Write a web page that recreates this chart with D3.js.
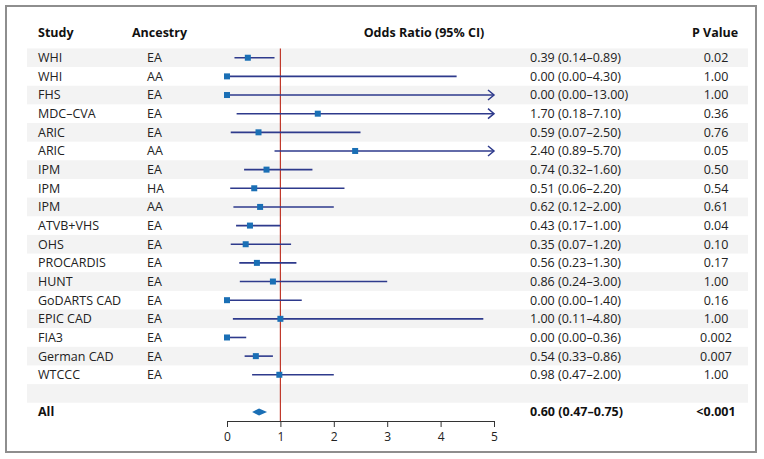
<!DOCTYPE html>
<html>
<head>
<meta charset="utf-8">
<script src="https://cdn.jsdelivr.net/npm/d3@7"></script>
<style>
html,body{margin:0;padding:0;background:#fff;}
svg{display:block;font-family:"Open Sans","Noto Sans",sans-serif;}
</style>
</head>
<body>
<svg id="chart" width="764" height="459"></svg>
<script>
const studies = ["WHI","WHI","FHS","MDC\u2013CVA","ARIC","ARIC","IPM","IPM","IPM","ATVB+VHS","OHS","PROCARDIS","HUNT","GoDARTS CAD","EPIC CAD","FIA3","German CAD","WTCCC"];
const ancestry = ["EA","AA","EA","EA","EA","AA","EA","HA","AA","EA","EA","EA","EA","EA","EA","EA","EA","EA"];
const oddsRatio = [0.39,0.00,0.00,1.70,0.59,2.40,0.74,0.51,0.62,0.43,0.35,0.56,0.86,0.00,1.00,0.00,0.54,0.98];
const ciLow = [0.14,0.00,0.00,0.18,0.07,0.89,0.32,0.06,0.12,0.17,0.07,0.23,0.24,0.00,0.11,0.00,0.33,0.47];
const ciHigh = [0.89,4.30,13.00,7.10,2.50,5.70,1.60,2.20,2.00,1.00,1.20,1.30,3.00,1.40,4.80,0.36,0.86,2.00];
const pValues = ["0.02","1.00","1.00","0.36","0.76","0.05","0.50","0.54","0.61","0.04","0.10","0.17","1.00","0.16","1.00","0.002","0.007","1.00"];
const overallLabel = "All";
const overall = [0.60, 0.47, 0.75];
const overallP = "<0.001";
const xTicks = [0,1,2,3,4,5];
const headers = ["Study","Ancestry","Odds Ratio (95% CI)","P Value"];

const svg = d3.select("#chart");
const fmt = d3.format(".2f");
const nRows = studies.length + 2; // studies + blank + All

const x = d3.scaleLinear().domain([0,5]).range([227,494]);
const y = d3.scaleBand().domain(d3.range(nRows)).range([48.4, 421.4]).padding(0);
const yc = i => y(i) + y.bandwidth()/2;

// frame
svg.append("rect").attr("x",6).attr("y",6).attr("width",750).attr("height",446)
  .attr("fill","#fff").attr("stroke","#8e8e8e").attr("stroke-width",2);

// stripes
svg.append("g").selectAll("rect").data(d3.range(nRows).filter(i => i % 2 === 0)).join("rect")
  .attr("x",27).attr("width",721).attr("y",i => y(i)).attr("height",y.bandwidth())
  .attr("fill","#f3f3f3");

// headers
const hdr = svg.append("g").attr("font-weight","bold").attr("font-size",12.5).attr("fill","#111");
hdr.append("text").attr("x",38).attr("y",33).attr("dy","0.35em").text(headers[0]);
hdr.append("text").attr("x",132).attr("y",33).attr("dy","0.35em").text(headers[1]);
hdr.append("text").attr("x",424).attr("y",33).attr("dy","0.35em").attr("text-anchor","middle").text(headers[2]);
hdr.append("text").attr("x",715).attr("y",33).attr("dy","0.35em").attr("text-anchor","middle").text(headers[3]);

// reference line at 1
svg.append("line").attr("x1",x(1)).attr("x2",x(1)).attr("y1",y(0)).attr("y2",421)
  .attr("stroke","#c0392b").attr("stroke-width",1.2);

const rows = studies.map((s,i) => ({s, a:ancestry[i], or:oddsRatio[i], lo:ciLow[i], hi:ciHigh[i], p:pValues[i], i}));

const txt = svg.append("g").attr("font-size",12.5).attr("fill","#222");
txt.selectAll(".st").data(rows).join("text").attr("x",38).attr("y",d => yc(d.i)).attr("dy","0.35em").text(d => d.s);
txt.selectAll(".an").data(rows).join("text").attr("x",147).attr("y",d => yc(d.i)).attr("dy","0.35em").text(d => d.a);
txt.selectAll(".ci").data(rows).join("text").attr("x",530).attr("y",d => yc(d.i)).attr("dy","0.35em")
  .text(d => `${fmt(d.or)} (${fmt(d.lo)}\u2013${fmt(d.hi)})`);
txt.selectAll(".pv").data(rows).join("text").attr("x",716).attr("y",d => yc(d.i)).attr("dy","0.35em")
  .attr("text-anchor","middle").text(d => d.p);

// CI lines
const lineColor = "#2e3a8c";
const maxX = x.domain()[1];
const g = svg.append("g");
g.selectAll(".cil").data(rows).join("line")
  .attr("x1",d => x(d.lo)).attr("x2",d => x(Math.min(d.hi,maxX)))
  .attr("y1",d => yc(d.i)).attr("y2",d => yc(d.i))
  .attr("stroke",lineColor).attr("stroke-width",1.6);
g.selectAll(".arr").data(rows.filter(d => d.hi > maxX)).join("path")
  .attr("d",d => { const xe = x(maxX), yy = yc(d.i); return `M${xe-6},${yy-5}L${xe},${yy}L${xe-6},${yy+5}`; })
  .attr("fill","none").attr("stroke",lineColor).attr("stroke-width",1.5);
g.selectAll(".sq").data(rows).join("rect")
  .attr("x",d => x(d.or)-3).attr("y",d => yc(d.i)-3).attr("width",6).attr("height",6)
  .attr("fill","#1a6fb5");

// overall
const oi = nRows - 1;
const bold = svg.append("g").attr("font-size",12.5).attr("font-weight","bold").attr("fill","#111");
bold.append("text").attr("x",38).attr("y",yc(oi)).attr("dy","0.35em").text(overallLabel);
bold.append("text").attr("x",530).attr("y",yc(oi)).attr("dy","0.35em")
  .text(`${fmt(overall[0])} (${fmt(overall[1])}\u2013${fmt(overall[2])})`);
bold.append("text").attr("x",716).attr("y",yc(oi)).attr("dy","0.35em").attr("text-anchor","middle").text(overallP);
svg.append("path")
  .attr("d",`M${x(overall[1])},${yc(oi)}L${x(overall[0])},${yc(oi)-3.5}L${x(overall[2])},${yc(oi)}L${x(overall[0])},${yc(oi)+3.5}Z`)
  .attr("fill","#1a6fb5");

// axis
const ax = svg.append("g").attr("transform","translate(0,421)")
  .call(d3.axisBottom(x).tickValues(xTicks).tickFormat(d3.format("d")).tickSize(6).tickSizeOuter(0));
ax.select(".domain").attr("stroke","#333");
ax.selectAll(".tick line").attr("stroke","#333");
ax.selectAll(".tick text").attr("font-size",12).attr("fill","#222").attr("font-family","\"Open Sans\",sans-serif").attr("dy","0.9em");
</script>
</body>
</html>
